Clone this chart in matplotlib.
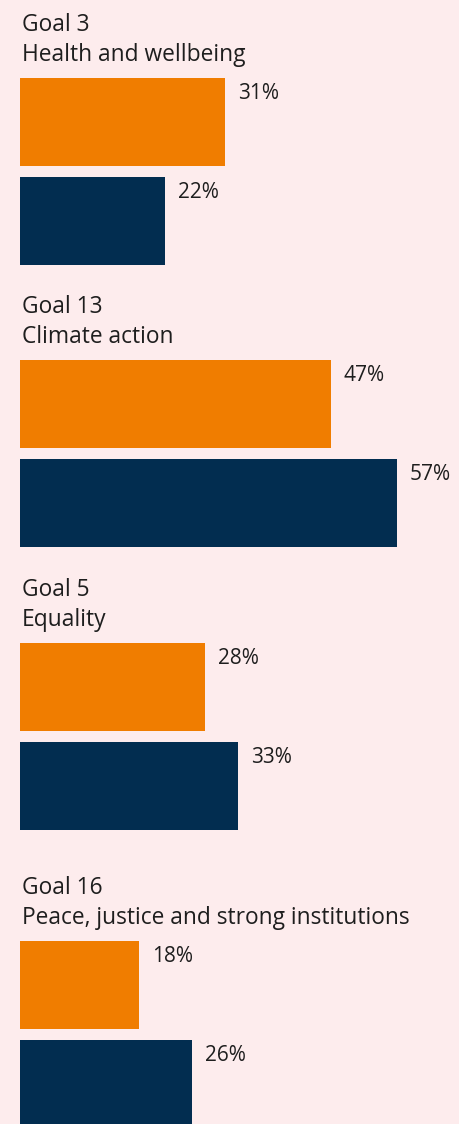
import matplotlib.pyplot as plt

goals = ['Goal 3', 'Goal 13', 'Goal 5', 'Goal 16']
names = ['Health and wellbeing', 'Climate action', 'Equality',
         'Peace, justice and strong institutions']
orange_vals = [31, 47, 28, 18]
navy_vals = [22, 57, 33, 26]

bg = '#fdeced'
orange = '#f07d00'
navy = '#022d50'
txt = '#1e1e1e'

plt.rcParams['font.family'] = ['Open Sans', 'DejaVu Sans']

W, H = 460, 1124
fig = plt.figure(figsize=(W / 100, H / 100), dpi=100, facecolor=bg)
ax = fig.add_axes([0, 0, 1, 1])
ax.set_facecolor(bg)
ppp = 6.61  # pixels per percent
ax.set_xlim(-20 / ppp, (W - 20) / ppp)
ax.set_ylim(H, 0)
ax.axis('off')

# top of the orange bar for each group, in pixels
tops = [78, 360, 643, 941]
bh = 88
gap = 11
for i in range(len(goals)):
    t = tops[i]
    tn = t + bh + gap
    ax.barh(t + bh / 2, orange_vals[i], height=bh, left=0, color=orange)
    ax.barh(tn + bh / 2, navy_vals[i], height=bh, left=0, color=navy)
    ax.text(orange_vals[i] + 13 / ppp, t + 21, f'{orange_vals[i]}%',
            fontsize=15, color=txt, va='baseline', ha='left')
    ax.text(navy_vals[i] + 13 / ppp, tn + 21, f'{navy_vals[i]}%',
            fontsize=15, color=txt, va='baseline', ha='left')
    ax.text(2 / ppp, t - 47, goals[i], fontsize=16.4, color=txt, va='baseline', ha='left')
    ax.text(2 / ppp, t - 17, names[i], fontsize=16.4, color=txt, va='baseline', ha='left')

fig.savefig('out.png', dpi=100, facecolor=bg)
